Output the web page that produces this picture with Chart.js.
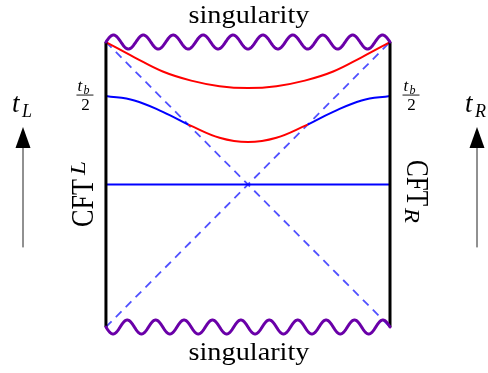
<!DOCTYPE html>
<html>
<head>
<meta charset="utf-8">
<script src="https://cdn.jsdelivr.net/npm/chart.js@4"></script>
<style>
  body { margin: 0; background: #fff; }
  #wrap { width: 488px; height: 373px; }
</style>
</head>
<body>
<div id="wrap"><canvas id="penrose"></canvas></div>
<script>

// square boundary of the diagram (CFT edges and singularities)
const edgeX = [-1, 1];
const edgeY = [-1, 1];

// horizons
const horizonX = [-1, 1];
const horizonUpY = [-1, 1];
const horizonDownY = [1, -1];

// t = 0 slice
const sliceX = [-1, 1];
const sliceY = [0, 0];

// late slice hugging the singularity
const upperX = [-1, -0.8, -0.6, -0.4, -0.2, 0, 0.2, 0.4, 0.6, 0.8, 1];
const upperY = [1, 0.893, 0.793, 0.729, 0.69, 0.677, 0.69, 0.729, 0.793, 0.893, 1];

// slice anchored at t_b/2 : outside parts (blue) and inside part (red)
const outerLeftX = [-1, -0.8, -0.6, -0.42];
const outerLeftY = [0.621, 0.59, 0.51, 0.42];
const outerRightX = [0.42, 0.6, 0.8, 1];
const outerRightY = [0.42, 0.51, 0.59, 0.621];
const innerX = [-0.42, -0.2, 0, 0.2, 0.42];
const innerY = [0.42, 0.328, 0.298, 0.328, 0.42];

const pts = (xs, ys) => xs.map((x, i) => ({ x: x, y: ys[i] }));

const SERIF = '"Liberation Serif", "DejaVu Serif", serif';
const PURPLE = '#6a00a8';

function line(data, color, width, extra) {
  return Object.assign({
    data: data,
    showLine: true,
    borderColor: color,
    borderWidth: width,
    pointRadius: 0,
    fill: false
  }, extra || {});
}

function wavy(ctx, x0, x1, y, amp, cycles, dir) {
  ctx.beginPath();
  const steps = 500;
  for (let i = 0; i <= steps; i++) {
    const t = i / steps;
    const px = x0 + (x1 - x0) * t;
    const py = y + dir * amp * Math.sin(2 * Math.PI * cycles * t);
    if (i === 0) ctx.moveTo(px, py); else ctx.lineTo(px, py);
  }
  ctx.stroke();
}

// text squeezed/stretched to a given width
function fitText(ctx, text, x, y, font, width, align) {
  ctx.save();
  ctx.font = font;
  const w = ctx.measureText(text).width;
  const sx = width / w;
  let left = x;
  if (align === 'center') left = x - width / 2;
  ctx.translate(left, y);
  ctx.scale(sx, 1);
  ctx.textAlign = 'left';
  ctx.fillText(text, 0, 0);
  ctx.restore();
}

function arrow(ctx, x, top, bottom) {
  ctx.beginPath();
  ctx.moveTo(x, bottom);
  ctx.lineTo(x, top + 20);
  ctx.lineWidth = 1;
  ctx.strokeStyle = '#222';
  ctx.stroke();
  ctx.beginPath();
  ctx.moveTo(x, top);
  ctx.lineTo(x - 7.5, top + 21);
  ctx.lineTo(x + 7.5, top + 21);
  ctx.closePath();
  ctx.fill();
}

function fraction(ctx, cx) {
  ctx.font = 'italic 17px ' + SERIF;
  ctx.textAlign = 'left';
  ctx.fillText('t', cx - 7.5, 91);
  ctx.font = 'italic 12px ' + SERIF;
  ctx.fillText('b', cx - 1.5, 94);
  ctx.fillRect(cx - 8.5, 94.6, 17, 0.9);
  ctx.font = '17px ' + SERIF;
  ctx.textAlign = 'center';
  ctx.fillText('2', cx + 0.5, 110);
}

const decorations = {
  id: 'decorations',
  afterDatasetsDraw(chart) {
    const ctx = chart.ctx;
    const xs = chart.scales.x, ys = chart.scales.y;
    const left = xs.getPixelForValue(edgeX[0]);
    const right = xs.getPixelForValue(edgeX[1]);
    const top = ys.getPixelForValue(edgeY[1]);
    const bottom = ys.getPixelForValue(edgeY[0]);
    const mid = (left + right) / 2;

    ctx.save();
    ctx.strokeStyle = PURPLE;
    ctx.lineWidth = 3;
    ctx.lineJoin = 'round';
    ctx.lineCap = 'round';
    wavy(ctx, left, right, top, 7, 9.5, -1);
    wavy(ctx, left, right, bottom, 7, 10, 1);

    ctx.fillStyle = '#000';
    ctx.textBaseline = 'alphabetic';

    fitText(ctx, 'singularity', mid + 1, top - 19, '26px ' + SERIF, 121, 'center');
    fitText(ctx, 'singularity', mid + 1, bottom + 33, '26px ' + SERIF, 121, 'center');

    // time arrows
    arrow(ctx, 23, 127, 247);
    arrow(ctx, 477, 127, 247);
    ctx.font = 'italic 27px ' + SERIF;
    ctx.textAlign = 'left';
    ctx.fillText('t', 12, 112);
    ctx.fillText('t', 465, 112);
    ctx.font = 'italic 18px ' + SERIF;
    ctx.fillText('L', 22, 117);
    ctx.fillText('R', 475, 117);

    fraction(ctx, left - 21);
    fraction(ctx, right + 21);

    // CFT_L, reading upwards
    ctx.save();
    ctx.translate(left - 13, 227);
    ctx.rotate(-Math.PI / 2);
    ctx.scale(1, 1.12);
    fitText(ctx, 'CFT', 0, 0, '28px ' + SERIF, 48, 'left');
    fitText(ctx, 'L', 52, -7, 'italic 18px ' + SERIF, 14, 'left');
    ctx.restore();

    // CFT_R, reading downwards
    ctx.save();
    ctx.translate(right + 17, 160);
    ctx.rotate(Math.PI / 2);
    ctx.scale(1, 1.12);
    fitText(ctx, 'CFT', 0, 0, '28px ' + SERIF, 46, 'left');
    fitText(ctx, 'R', 48, 2, 'italic 18px ' + SERIF, 15, 'left');
    ctx.restore();

    ctx.restore();
  }
};

const penrose = new Chart(document.querySelector('#penrose'), {
  type: 'scatter',
  data: {
    datasets: [
      line(pts([edgeX[0], edgeX[0]], edgeY), '#000', 3),
      line(pts([edgeX[1], edgeX[1]], edgeY), '#000', 3),
      line(pts(upperX, upperY), '#ff0000', 2, { tension: 0.4 }),
      line(pts(innerX, innerY), '#ff0000', 2, { tension: 0.4 }),
      line(pts(outerLeftX, outerLeftY), '#0000ff', 2, { tension: 0.4 }),
      line(pts(outerRightX, outerRightY), '#0000ff', 2, { tension: 0.4 }),
      line(pts(sliceX, sliceY), '#0000ff', 2),
      line(pts(horizonX, horizonUpY), '#5050ff', 1.8, { borderDash: [8, 6] }),
      line(pts(horizonX, horizonDownY), '#5050ff', 1.8, { borderDash: [8, 6] })
    ]
  },
  options: {
    responsive: true,
    maintainAspectRatio: false,
    animation: false,
    layout: { padding: 0 },
    scales: {
      x: { type: 'linear', min: -1.746, max: 1.690, display: false },
      y: { type: 'linear', min: -1.323, max: 1.295, display: false }
    },
    plugins: {
      legend: { display: false },
      tooltip: { enabled: false }
    }
  },
  plugins: [decorations]
});
</script>
</body>
</html>
